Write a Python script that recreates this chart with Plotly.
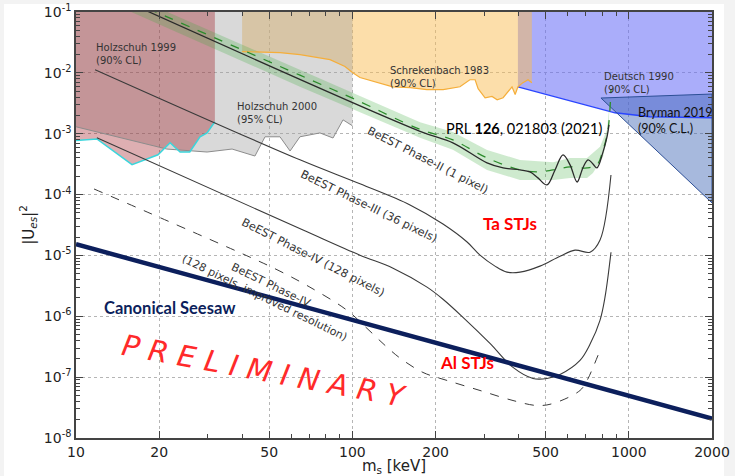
import numpy as np
import plotly.graph_objects as go

# ---------------- data (keV, |U_es|^2) ----------------
holz99_x = [10, 11.9, 15.95, 19.8, 21.9, 23.8, 25.8, 28.1, 29.8, 31.8]
holz99_y = [7.7e-4, 8.2e-4, 3.1e-4, 4.5e-4, 7.1e-4, 5.0e-4, 5.0e-4, 8.9e-4, 1.03e-3, 1.57e-3]

holz00_x = [10, 21.3, 29.8, 36.7, 44.4, 48.3, 54.7, 59.5, 64.6, 76.3, 85.1, 92.5, 100]
holz00_y = [1.3e-3, 5.6e-4, 5.0e-4, 5.6e-4, 4.3e-4, 8.9e-4, 8.9e-4, 5.2e-4, 8.9e-4, 1.03e-3, 8.5e-4, 1.69e-3, 1.35e-3]

schrek_x = [39.9, 54.7, 64.6, 83.0, 94.0, 100, 106.5, 140, 162, 186, 213, 245, 266, 278, 285,
            302, 320, 334, 351, 366, 378, 388, 397, 414, 432, 446]
schrek_y = [0.0223, 0.0215, 0.0200, 0.0165, 0.0127, 0.0101, 0.0084, 0.0059, 0.0057, 0.0053, 0.0053,
            0.0059, 0.0077, 0.0077, 0.0055, 0.0039, 0.0041, 0.0036, 0.0039, 0.0049, 0.0059, 0.0044,
            0.0059, 0.0069, 0.0077, 0.0069]

deutsch_x = [397, 891, 1193, 2000]
deutsch_y = [0.0059, 0.00221, 0.0019, 0.00183]

bryman_x = [793, 2000, 2000, 793]
bryman_y = [0.00386, 0.00449, 7.3e-5, 0.00386]

band_up_x = [21.2, 64.6, 100.5, 175.7, 231, 307, 404, 532, 613, 706, 787, 834, 855]
band_up_y = [0.102, 0.0111, 0.00464, 0.00154, 1.07e-3, 5.4e-4, 3.7e-4, 3.4e-4, 4.0e-4, 4.0e-4, 6.1e-4, 1.16e-3, 3.6e-3]
band_lo_x = [15.7, 64.6, 100.5, 175.7, 231, 307, 404, 532, 613, 706, 742, 807, 841, 855]
band_lo_y = [0.102, 0.00593, 0.00248, 8.55e-4, 5.43e-4, 2.54e-4, 1.74e-4, 1.74e-4, 1.88e-4, 1.88e-4, 2.27e-4, 4.2e-4, 1.03e-3, 3.6e-3]

p2_dash_x = [18.22, 64.6, 100.5, 175.7, 231, 307, 404, 465.5, 532, 613, 706, 767, 807, 841, 862]
p2_dash_y = [0.114, 0.00916, 0.0038, 1.18e-3, 7.9e-4, 4.0e-4, 2.54e-4, 2.36e-4, 2.54e-4, 2.85e-4, 2.74e-4, 3.08e-4, 5.43e-4, 1.16e-3, 5.28e-3]

p2_x = [18.22, 175.7, 231, 307, 351, 404, 439, 469, 506, 541, 578, 613, 650, 682, 712, 742, 767, 807, 834, 848]
p2_y = [0.102, 1.096e-3, 7.08e-4, 3.32e-4, 2.74e-4, 2.54e-4, 2.36e-4, 1.88e-4, 1.44e-4, 2.54e-4, 4.49e-4,
        3.08e-4, 1.61e-4, 2.74e-4, 3.72e-4, 3.19e-4, 2.74e-4, 5.03e-4, 8.89e-4, 1.40e-3]

p3_x = [11.72, 64.6, 106.5, 161.6, 212.7, 260, 289.5, 328, 362.5, 404, 477, 564, 639, 724, 787, 862]
p3_y = [0.0113, 3.72e-4, 1.50e-4, 6.75e-5, 3.28e-5, 1.66e-5, 1.01e-5, 6.67e-6, 5.31e-6, 5.31e-6,
        6.67e-6, 9.73e-6, 1.22e-5, 1.13e-5, 1.79e-5, 2.10e-4]

p4_x = [11.9, 66.3, 106.5, 140.3, 186.2, 212.7, 251.3, 314.6, 381.1, 450.2, 505.8, 563.8, 666, 723.8, 786.6, 820.2, 862.2]
p4_y = [8.55e-4, 2.61e-5, 1.01e-5, 6.18e-6, 3.01e-6, 1.905e-6, 9.62e-7, 3.59e-7, 1.446e-7, 9.52e-8,
        9.52e-8, 1.107e-7, 1.884e-7, 3.46e-7, 8.59e-7, 2.06e-6, 1.13e-5]

p4i_x = [11.62, 42.6, 54.7, 70.2, 95.6, 112.9, 131.2, 149.3, 180, 219.9, 289.5, 381.1, 465.5, 531.8, 666, 706.3, 742.3, 786.6]
p4i_y = [1.236e-4, 9.37e-6, 5.51e-6, 3.01e-6, 1.256e-6, 6.34e-7, 3.33e-7, 2.03e-7, 1.195e-7, 8.83e-8,
         6.04e-8, 4.13e-8, 3.42e-8, 3.69e-8, 6.04e-8, 8.83e-8, 1.446e-7, 2.75e-7]

seesaw_x = [10, 2000]
seesaw_y = [1.53e-5, 2.09e-8]

x_ticks = [10, 20, 50, 100, 200, 500, 1000, 2000]
y_exps = [-8, -7, -6, -5, -4, -3, -2, -1]
TOP = 0.1

# ---------------- figure ----------------
fig = go.Figure()


def region(xs, ys, fill, close_top=True):
    if close_top:
        xs = list(xs) + [xs[-1], xs[0]]
        ys = list(ys) + [TOP, TOP]
    fig.add_trace(go.Scatter(x=xs, y=ys, mode="lines", fill="toself", fillcolor=fill,
                             line=dict(width=0), hoverinfo="skip", showlegend=False))


def line(xs, ys, color, width=1.2, dash="solid", shape="linear"):
    fig.add_trace(go.Scatter(x=xs, y=ys, mode="lines", line=dict(color=color, width=width, dash=dash, shape=shape),
                             hoverinfo="skip", showlegend=False))


# shaded exclusion regions
region(deutsch_x, deutsch_y, "rgba(100,105,245,0.55)")
region(schrek_x, schrek_y, "rgba(250,190,85,0.5)")
region(holz00_x, holz00_y, "rgba(160,160,160,0.4)")
region(holz99_x, holz99_y, "rgba(152,5,14,0.32)")
region(bryman_x, bryman_y, "rgba(60,100,180,0.45)", close_top=False)

# green band
region(band_up_x + band_lo_x[::-1], band_up_y + band_lo_y[::-1], "rgba(60,170,60,0.25)", close_top=False)

# boundary lines
line(deutsch_x, deutsch_y, "#2a45ff", 1.3)
line(schrek_x, schrek_y, "#f5ae3a", 1.2)
line(holz00_x, holz00_y, "#8c8c8c", 1.0)
line(holz99_x, holz99_y, "#3ad6dc", 1.5)
line(bryman_x, bryman_y, "#2d4f96", 1.0)

# sensitivity curves
line(p2_dash_x, p2_dash_y, "#2c8c2c", 1.3, dash="dash", shape="spline")
line(p2_x, p2_y, "#2a2a2a", 1.3, shape="spline")
line(p3_x, p3_y, "#3a3a3a", 1.1, shape="spline")
line(p4_x, p4_y, "#3a3a3a", 1.1, shape="spline")
line(p4i_x, p4i_y, "#3a3a3a", 1.0, dash="dash", shape="spline")
line(seesaw_x, seesaw_y, "#0c1f5c", 4.5)

# ---------------- annotations (pixel -> paper helper) ----------------
L, R, T, B = 76, 23, 12, 38
W, H = 735, 476
PW, PH = W - L - R, H - T - B


def px(xp):
    return (xp - L) / PW


def py(yp):
    return (H - B - yp) / PH


def note(x, y, text, size=10, color="#333333", family="DejaVu Sans", angle=0, xanchor="center", align="center"):
    fig.add_annotation(x=px(x), y=py(y), xref="paper", yref="paper", text=text, showarrow=False,
                       font=dict(family=family, size=size, color=color), textangle=angle,
                       xanchor=xanchor, yanchor="middle", align=align)


note(94, 54, "Holzschuh 1999<br>(90% CL)", xanchor="left", align="left")
note(235, 113, "Holzschuh 2000<br>(95% CL)", xanchor="left", align="left")
note(388, 77, "Schrekenbach 1983<br>(90% CL)", xanchor="left", align="left")
note(602, 83, "Deutsch 1990<br>(90% CL)", xanchor="left", align="left")
note(636, 120, "Bryman 2019<br>(90% C.L.)", size=12.5, family="Lato", color="#111111", xanchor="left", align="left")
note(524, 128, "PRL <b>126</b>, 021803 (2021)", size=14.5, family="Lato", color="#000000")
note(428, 160, "BeEST Phase-II (1 pixel)", size=11.3, angle=27)
note(369, 206, "BeEST Phase-III (36 pixels)", size=11.3, angle=26)
note(313, 257, "BeEST Phase-IV (128 pixels)", size=11.3, angle=27)
note(268, 291, "BeEST Phase-IV<br>(128 pixels, improved resolution)", size=11, angle=26)
note(510, 223, "<b>Ta STJs</b>", size=17, family="Lato", color="#ff0000")
note(467, 362, "<b>Al STJs</b>", size=17, family="Lato", color="#ff0000")
note(170, 308, "<b>Canonical Seesaw</b>", size=16.5, family="Lato", color="#0c1f5c")
note(264, 371, "<i>P R E L I M I N A R Y</i>", size=29, family="DejaVu Sans", color="#ff2a2a", angle=10.5)

# outer white page
fig.add_shape(type="rect", xref="paper", yref="paper", x0=px(4), x1=px(724), y0=py(480), y1=py(4),
              fillcolor="white", line=dict(width=0), layer="below")

minor_x = [30, 40, 60, 70, 80, 90, 300, 400, 600, 700, 800, 900]
minor_y = [m * 10.0 ** e for e in range(-8, -1) for m in range(2, 10)]

axis_common = dict(type="log", ticks="inside", ticklen=7, tickwidth=1, tickcolor="#444444",
                   showline=True, linecolor="#444444", linewidth=1.5, mirror="allticks",
                   showgrid=True, gridcolor="#b5b5b5", griddash="dot", gridwidth=1, zeroline=False,
                   tickfont=dict(family="DejaVu Sans", size=14, color="#222222"), automargin=False)

fig.update_layout(
    width=W, height=H, margin=dict(l=L, r=R, t=T, b=B),
    paper_bgcolor="#f3f3f3", plot_bgcolor="white", showlegend=False,
    xaxis=dict(range=[1, np.log10(2000)], tickmode="array", tickvals=x_ticks,
               ticktext=[str(v) for v in x_ticks],
               minor=dict(tickmode="array", tickvals=minor_x, ticks="inside", ticklen=4, tickcolor="#444444", showgrid=False),
               title=dict(text="m<sub>s</sub> [keV]", font=dict(family="DejaVu Sans", size=15, color="#222222"), standoff=4),
               **axis_common),
    yaxis=dict(range=[-8, -1], tickmode="array", tickvals=[10.0 ** e for e in y_exps],
               ticktext=["10<sup>%d</sup>" % e for e in y_exps],
               minor=dict(tickmode="array", tickvals=minor_y, ticks="inside", ticklen=4, tickcolor="#444444", showgrid=False),
               title=dict(text="|U<sub><i>es</i></sub>|<sup>2</sup>", font=dict(family="DejaVu Sans", size=15, color="#222222"), standoff=6),
               **axis_common),
)

fig.write_html("out.html")
